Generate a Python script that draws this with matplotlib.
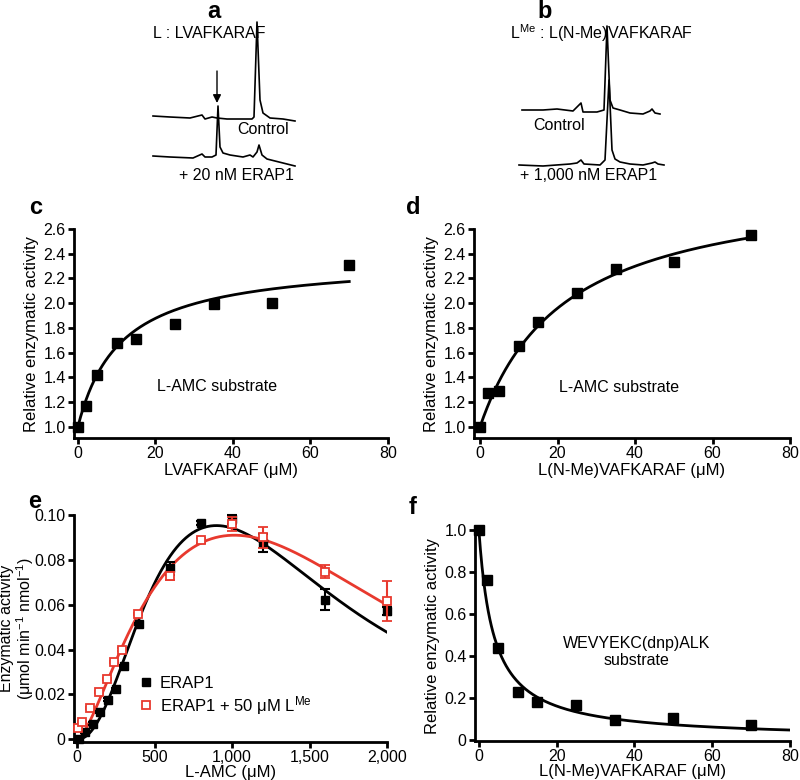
import numpy as np
import matplotlib
matplotlib.use('Agg')
import matplotlib.pyplot as plt

plt.rcParams['font.family'] = ['Liberation Sans', 'DejaVu Sans']
plt.rcParams['mathtext.default'] = 'regular'

FS = 11.5
RED = '#e8392e'

# ---------------- data ----------------
# panel a: HPLC traces (retention time a.u., signal a.u.)
a_ctrl_t = [3, 20, 40, 52, 55, 62, 67, 77, 90, 102, 104, 107, 110, 113, 120, 133, 145]
a_ctrl_s = [3, 2, 1, 4, 0, 2, 1, 0, 0, 0, 2, 97, 19, 6, 1, 0, -2]
a_erap_t = [3, 20, 43, 52, 55, 62, 66, 68, 70, 73, 80, 93, 100, 103, 107, 109, 112, 117, 133, 145]
a_erap_s = [1, 0, -1, 3, 0, 0, 2, 51, 10, 4, 2, 0, 2, 0, 5, 12, 2, -2, -6, -9]
# panel b
b_ctrl_t = [12, 33, 47, 63, 71, 73, 87, 94, 97, 100, 103, 110, 120, 133, 140, 142, 145, 150]
b_ctrl_s = [0, 0, 1, -1, 7, -2, -2, 0, 84, 10, 2, 0, -3, -4, -1, 1, -3, -4]
b_erap_t = [9, 33, 60, 67, 71, 74, 90, 95, 99, 102, 105, 110, 120, 133, 142, 145, 148, 154]
b_erap_s = [0, -1, 1, 2, 5, 1, 0, 5, 85, 15, 6, 3, 1, 0, 2, 3, 1, 0]

# panel c
c_x = [0, 2, 5, 10, 15, 25, 35, 50, 70]
c_y = [1.00, 1.17, 1.42, 1.68, 1.71, 1.83, 1.99, 2.00, 2.31]
c_A, c_K = 1.36, 11.0

# panel d
d_x = [0, 2, 5, 10, 15, 25, 35, 50, 70]
d_y = [1.00, 1.27, 1.29, 1.65, 1.85, 2.08, 2.28, 2.33, 2.55]
d_A, d_K = 2.01, 21.9

# panel e
e_blk_x = [10, 50, 100, 150, 200, 250, 300, 400, 600, 800, 1000, 1200, 1600, 2000]
e_blk_y = [0.0000, 0.0034, 0.0070, 0.0122, 0.0177, 0.0225, 0.0326, 0.0513, 0.0762,
           0.0965, 0.0982, 0.0874, 0.0623, 0.0572]
e_blk_err = [0.0005, 0.0005, 0.0005, 0.0005, 0.0005, 0.0005, 0.0005, 0.0005, 0.003,
             0.001, 0.002, 0.0040, 0.0045, 0.0020]
e_red_x = [5, 30, 80, 140, 190, 240, 290, 395, 600, 800, 1000, 1200, 1600, 2000]
e_red_y = [0.0049, 0.0076, 0.0140, 0.0212, 0.0270, 0.0345, 0.0400, 0.0560, 0.0728,
           0.0887, 0.0960, 0.0900, 0.0747, 0.0617]
e_red_err = [0.0005, 0.0005, 0.0005, 0.0005, 0.0005, 0.0005, 0.0005, 0.0005, 0.002,
             0.001, 0.003, 0.0045, 0.0030, 0.0090]
# fitted model parameters: v = V / (1 + (K/x)^n + (x/Ki)^m)
blk_V, blk_K, blk_n, blk_Ki, blk_m = 0.1515, 527.0, 2.1, 1500.0, 2.6
red_V, red_K, red_n, red_Ki, red_m = 0.147, 542.0, 1.5, 1800.0, 2.6

# panel f
f_x = [0, 2, 5, 10, 15, 25, 35, 50, 70]
f_y = [1.00, 0.76, 0.435, 0.225, 0.18, 0.165, 0.093, 0.103, 0.067]
f_IC50 = 3.8


def style(ax):
    for s in ['top', 'right']:
        ax.spines[s].set_visible(False)
    for s in ['left', 'bottom']:
        ax.spines[s].set_linewidth(2.0)
    ax.tick_params(width=2.0, length=4, labelsize=FS, pad=2, direction='out')


fig = plt.figure(figsize=(8, 7.8), dpi=100)
W, H = 800.0, 780.0


def px_axes(x0, y0, x1, y1):
    return fig.add_axes([x0 / W, 1 - y1 / H, (x1 - x0) / W, (y1 - y0) / H])


# ---------------- panel a ----------------
axa = px_axes(150, 0, 300, 180)
axa.set_xlim(0, 150)
axa.set_ylim(0, 180)
axa.axis('off')
a_off_ctrl, a_off_erap = 61, 23
axa.plot(a_ctrl_t, np.array(a_ctrl_s) + a_off_ctrl, color='black', lw=1.2)
axa.plot(a_erap_t, np.array(a_erap_s) + a_off_erap, color='black', lw=1.2)
axa.annotate('', xy=(67, 77), xytext=(67, 109),
             arrowprops=dict(arrowstyle='-|>', color='black', lw=1.0,
                             mutation_scale=12, shrinkA=0, shrinkB=0))
axa.text(3, 147, 'L : LVAFKARAF', fontsize=FS, ha='left', va='center')
axa.text(87, 50, 'Control', fontsize=FS, ha='left', va='center')
axa.text(29, 4, '+ 20 nM ERAP1', fontsize=FS, ha='left', va='center')

# ---------------- panel b ----------------
axb = px_axes(510, 0, 670, 180)
axb.set_xlim(0, 160)
axb.set_ylim(0, 180)
axb.axis('off')
b_off_ctrl, b_off_erap = 70, 15
axb.plot(b_ctrl_t, np.array(b_ctrl_s) + b_off_ctrl, color='black', lw=1.2)
axb.plot(b_erap_t, np.array(b_erap_s) + b_off_erap, color='black', lw=1.2)
axb.text(0, 147, 'L$^{Me}$ : L(N-Me)VAFKARAF', fontsize=FS, ha='left', va='center')
axb.text(23, 55, 'Control', fontsize=FS, ha='left', va='center')
axb.text(10, 4, '+ 1,000 nM ERAP1', fontsize=FS, ha='left', va='center')

# ---------------- panel c ----------------
axc = px_axes(74, 229, 388, 438)
style(axc)
xs = np.linspace(0, 70, 300)
axc.plot(xs, 1 + c_A * xs / (c_K + xs), color='black', lw=2.0, zorder=2)
axc.plot(c_x, c_y, 's', color='black', ms=6.8, zorder=3, clip_on=False)
axc.set_xlim(-1, 80)
axc.set_ylim(0.91, 2.6)
axc.set_xticks([0, 20, 40, 60, 80])
axc.set_yticks(np.arange(1.0, 2.61, 0.2))
axc.set_yticklabels(['%.1f' % v for v in np.arange(1.0, 2.61, 0.2)])
axc.set_xlabel('LVAFKARAF (\u03bcM)', fontsize=12, labelpad=1)
axc.set_ylabel('Relative enzymatic activity', fontsize=12, labelpad=3)
axc.text(36, 1.33, 'L-AMC substrate', fontsize=FS, ha='center', va='center')

# ---------------- panel d ----------------
axd = px_axes(474, 229, 790, 438)
style(axd)
axd.plot(xs, 1 + d_A * xs / (d_K + xs), color='black', lw=2.0, zorder=2)
axd.plot(d_x, d_y, 's', color='black', ms=6.8, zorder=3, clip_on=False)
axd.set_xlim(-1.55, 80)
axd.set_ylim(0.91, 2.6)
axd.set_xticks([0, 20, 40, 60, 80])
axd.set_yticks(np.arange(1.0, 2.61, 0.2))
axd.set_yticklabels(['%.1f' % v for v in np.arange(1.0, 2.61, 0.2)])
axd.set_xlabel('L(N-Me)VAFKARAF (\u03bcM)', fontsize=12, labelpad=1)
axd.set_ylabel('Relative enzymatic activity', fontsize=12, labelpad=3)
axd.text(36, 1.32, 'L-AMC substrate', fontsize=FS, ha='center', va='center')

# ---------------- panel e ----------------
axe = px_axes(74, 515, 387, 742)
style(axe)
xe = np.linspace(1, 2000, 600)
blk_curve = blk_V / (1 + (blk_K / xe) ** blk_n + (xe / blk_Ki) ** blk_m)
red_curve = red_V / (1 + (red_K / xe) ** red_n + (xe / red_Ki) ** red_m)
axe.plot(xe, blk_curve, color='black', lw=2.0, zorder=2)
axe.plot(xe, red_curve, color=RED, lw=2.0, zorder=2)
axe.errorbar(e_blk_x, e_blk_y, yerr=e_blk_err, fmt='s', color='black', ms=5.2,
             elinewidth=1.5, capsize=3.5, capthick=1.5, zorder=3, clip_on=False,
             label='ERAP1')
axe.errorbar(e_red_x, e_red_y, yerr=e_red_err, fmt='s', color=RED, mfc='white',
             mec=RED, mew=1.3, ms=6, elinewidth=1.5, capsize=3.5, capthick=1.5,
             zorder=4, clip_on=False, label='ERAP1 + 50 \u03bcM L$^{Me}$')
axe.set_xlim(-21, 2000)
axe.set_ylim(-0.0012, 0.10)
axe.set_xticks([0, 500, 1000, 1500, 2000])
axe.set_xticklabels(['0', '500', '1,000', '1,500', '2,000'])
axe.set_yticks([0, 0.02, 0.04, 0.06, 0.08, 0.10])
axe.set_yticklabels(['0', '0.02', '0.04', '0.06', '0.08', '0.10'])
axe.set_xlabel('L-AMC (\u03bcM)', fontsize=12, labelpad=0)
axe.set_ylabel('Enzymatic activity\n(\u03bcmol min$^{-1}$ nmol$^{-1}$)', fontsize=11.5,
               linespacing=1.0)
axe.yaxis.set_label_coords(-0.122, 0.5)
handles, labels = axe.get_legend_handles_labels()
handles = [h[0] for h in handles]
axe.legend(handles, labels, loc='upper left', bbox_to_anchor=(0.21, 0.29),
           frameon=False, fontsize=12, handlelength=0.8, handletextpad=0.4,
           labelspacing=0.15, borderpad=0, borderaxespad=0)

# ---------------- panel f ----------------
axf = px_axes(475, 530, 790, 741)
style(axf)
xf = np.linspace(0, 80, 400)
axf.plot(xf, 1 / (1 + xf / f_IC50), color='black', lw=2.0, zorder=2)
axf.plot(f_x, f_y, 's', color='black', ms=6.5, zorder=3, clip_on=False)
axf.set_xlim(-1, 80)
axf.set_ylim(-0.007, 1.0)
axf.set_xticks([0, 20, 40, 60, 80])
axf.set_yticks([0, 0.2, 0.4, 0.6, 0.8, 1.0])
axf.set_yticklabels(['0', '0.2', '0.4', '0.6', '0.8', '1.0'])
axf.set_xlabel('L(N-Me)VAFKARAF (\u03bcM)', fontsize=12, labelpad=0)
axf.set_ylabel('Relative enzymatic activity', fontsize=12, labelpad=3)
axf.text(40.6, 0.417, 'WEVYEKC(dnp)ALK\nsubstrate', fontsize=FS, ha='center',
         va='center', linespacing=1.2)

# ---------------- panel letters ----------------
for lab, (px, py) in {'a': (214, 11), 'b': (545, 11), 'c': (36, 207),
                      'd': (413, 207), 'e': (35, 501), 'f': (413, 507)}.items():
    fig.text(px / W, 1 - py / H, lab, fontsize=17, fontweight='bold',
             ha='center', va='center')

fig.savefig('out.png', dpi=100)
